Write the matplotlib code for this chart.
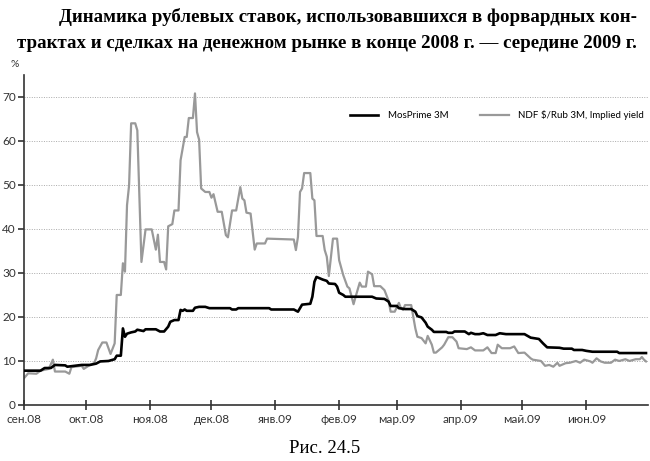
import matplotlib
matplotlib.use('Agg')
import matplotlib.pyplot as plt
import pandas as pd

# days counted from 1 Sep 2008
ndf_day = [0, 2, 6, 8, 12, 14, 15, 20, 22, 23, 28, 29, 32, 34, 35, 36, 38, 40, 42, 44,
           45, 47, 48, 49, 50, 51, 52, 54, 55, 57, 59, 62, 64, 65, 66, 68, 69, 70, 72, 73,
           75, 76, 78, 79, 80, 82, 83, 84, 85, 86, 88, 90, 91, 92, 94, 96, 98, 99, 101, 103,
           105, 106, 107, 108, 110, 112, 113, 117, 118, 131, 132, 133, 134, 135, 136, 139, 140, 141, 142, 145,
           146, 147, 148, 150, 152, 153, 155, 157, 158, 160, 161, 163, 164, 166, 167, 169, 170, 173, 175, 177,
           178, 180, 182, 183, 184, 185, 188, 189, 190, 191, 193, 195, 196, 198, 199, 200, 203, 204, 206, 208,
           210, 211, 215, 217, 219, 223, 225, 227, 229, 230, 232, 236, 238, 240, 243, 246, 247, 251, 253, 255,
           257, 259, 260, 263, 265, 268, 270, 272, 275, 276, 278, 280, 282, 285, 287, 289, 292, 294, 297, 299,
           300, 301, 302]
ndf_val = [6.1, 7.2, 7.1, 7.8, 8.2, 10.3, 7.6, 7.6, 7.1, 8.6, 8.9, 8.2, 9.1, 9.5, 10.6, 12.5, 14.2, 14.2, 11.6, 14.0,
           25.0, 25.0, 32.2, 30.3, 45.4, 49.9, 64.0, 64.0, 62.4, 32.5, 39.9, 39.9, 35.3, 38.7, 32.5, 32.5, 30.8, 40.6, 41.1, 44.2,
           44.2, 55.6, 60.9, 60.9, 65.2, 65.2, 70.8, 62.0, 60.3, 49.2, 48.4, 48.4, 47.1, 47.9, 43.9, 43.9, 38.6, 38.1, 44.2, 44.2,
           49.5, 46.9, 46.5, 43.7, 43.5, 35.3, 36.7, 36.7, 37.8, 37.6, 35.2, 38.2, 48.4, 49.2, 52.7, 52.7, 46.9, 46.5, 38.4, 38.4,
           35.2, 33.7, 29.3, 37.8, 37.8, 32.9, 29.5, 26.9, 26.5, 22.9, 24.6, 27.8, 26.9, 26.9, 30.3, 29.7, 27.0, 27.0, 26.1, 23.7,
           21.2, 21.2, 23.2, 22.0, 21.6, 22.7, 22.7, 20.1, 17.4, 15.5, 15.2, 14.0, 15.7, 13.7, 11.9, 11.9, 13.1, 13.7, 15.4, 15.4,
           14.4, 12.9, 12.7, 13.1, 12.4, 12.4, 13.1, 11.8, 11.8, 13.7, 12.9, 12.9, 13.3, 11.8, 11.9, 10.6, 10.3, 10.0, 8.9, 9.1,
           8.7, 9.6, 8.9, 9.5, 9.6, 10.0, 9.6, 10.3, 9.9, 9.6, 10.6, 9.9, 9.6, 9.6, 10.3, 10.0, 10.4, 10.0, 10.4, 10.4,
           10.9, 10.3, 9.9]

mos_day = [0, 8, 10, 13, 15, 20, 21, 28, 32, 35, 37, 41, 44, 45, 47, 48, 49, 50, 52, 54,
           55, 58, 59, 64, 66, 68, 70, 71, 73, 75, 76, 77, 78, 79, 82, 83, 85, 88, 90, 100,
           101, 103, 104, 119, 120, 131, 133, 134, 135, 139, 140, 141, 142, 143, 145, 147, 148, 151, 152, 153,
           155, 156, 169, 171, 175, 177, 178, 181, 182, 185, 188, 190, 191, 193, 195, 196, 198, 199, 205, 206,
           208, 209, 214, 216, 217, 219, 221, 223, 225, 229, 231, 234, 243, 246, 250, 252, 254, 260, 262, 266,
           267, 271, 273, 276, 288, 289, 302]
mos_val = [7.8, 7.8, 8.4, 8.4, 9.1, 9.0, 8.7, 9.1, 9.1, 9.4, 9.9, 10.0, 10.4, 11.2, 11.2, 17.4, 15.5, 16.2, 16.5, 16.7,
           17.1, 16.8, 17.2, 17.2, 16.7, 16.7, 17.8, 18.9, 19.3, 19.3, 21.6, 21.4, 21.7, 21.4, 21.4, 22.1, 22.3, 22.3, 22.0, 22.0,
           21.7, 21.7, 22.0, 22.0, 21.7, 21.7, 21.2, 22.0, 22.8, 23.0, 24.6, 28.0, 29.1, 28.9, 28.5, 28.2, 27.6, 27.5, 26.9, 25.5,
           25.0, 24.6, 24.6, 24.2, 24.1, 23.5, 22.5, 22.5, 22.0, 21.8, 21.8, 21.2, 20.2, 19.9, 18.7, 17.8, 17.1, 16.6, 16.6, 16.4,
           16.4, 16.7, 16.7, 16.1, 16.4, 16.1, 16.1, 16.3, 15.9, 15.9, 16.3, 16.1, 16.1, 15.3, 15.0, 14.0, 13.1, 13.0, 12.8, 12.8,
           12.5, 12.5, 12.3, 12.1, 12.1, 11.8, 11.8]

month_labels = ['сен.08', 'окт.08', 'ноя.08', 'дек.08', 'янв.09', 'фев.09',
                'мар.09', 'апр.09', 'май.09', 'июн.09']
y_ticks = [0, 10, 20, 30, 40, 50, 60, 70]

start = pd.Timestamp('2008-09-01')
ndf_dates = start + pd.to_timedelta(ndf_day, unit='D')
mos_dates = start + pd.to_timedelta(mos_day, unit='D')
month_ticks = pd.date_range('2008-09-01', periods=len(month_labels), freq='MS')

plt.rcParams['font.family'] = ['Lato', 'DejaVu Sans']

fig = plt.figure(figsize=(6.5, 4.61), dpi=100)
ax = fig.add_axes([0.037, 0.1215, 0.96, 0.716])

ax.plot(mos_dates, mos_val, color='black', lw=1.9, label='MosPrime 3M', zorder=3)
ax.plot(ndf_dates, ndf_val, color='#999999', lw=1.6, label='NDF $/Rub 3M, Implied yield', zorder=2)

ax.set_xlim(start, pd.Timestamp('2009-07-01'))
ax.set_ylim(0, 75)
ax.set_yticks(y_ticks)
ax.set_xticks(month_ticks)
ax.set_xticklabels(month_labels)
ax.grid(axis='y', color='#aaaaaa', linestyle=(0, (1, 1.5)), lw=0.7)
ax.set_axisbelow(True)

for s in ['top', 'right']:
    ax.spines[s].set_visible(False)
for s in ['left', 'bottom']:
    ax.spines[s].set_color('#333333')
    ax.spines[s].set_linewidth(1.2)
ax.tick_params(axis='y', direction='out', length=4, width=1.2, color='#333333',
               labelsize=8.5, labelcolor='#333333', pad=2)
ax.tick_params(axis='x', direction='inout', length=7, width=1.2, color='#333333',
               labelsize=8.5, labelcolor='#333333', pad=3)

ax.legend(loc='upper right', bbox_to_anchor=(1.0, 0.905), ncol=2, frameon=False,
          fontsize=7, handlelength=2.9, columnspacing=3.3, handletextpad=1.0,
          borderaxespad=0)

fig.text(0.016, 0.855, '%', fontsize=7.5, color='#333333')

title_font = dict(family='Liberation Serif', weight='bold', fontsize=13.6, ha='right', va='baseline')
fig.text(0.98, 0.952, 'Динамика рублевых ставок, использовавшихся в форвардных кон-', **title_font)
fig.text(0.98, 0.896, 'трактах и сделках на денежном рынке в конце 2008 г. — середине 2009 г.', **title_font)

fig.text(0.5, 0.018, 'Рис. 24.5', family='Liberation Serif', fontsize=13.5, ha='center')

fig.savefig('out.png', dpi=100)
